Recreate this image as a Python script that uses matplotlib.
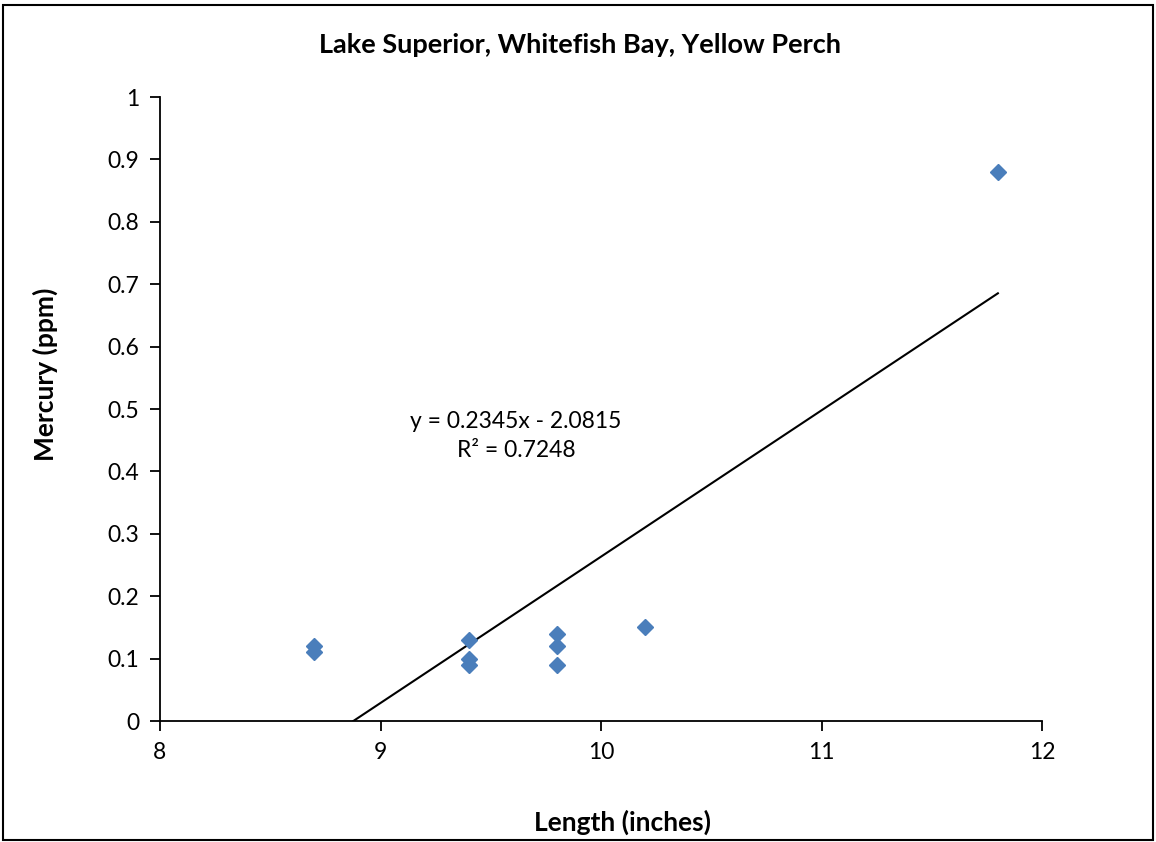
import matplotlib
matplotlib.use("Agg")
import matplotlib.pyplot as plt
import numpy as np

length_in = [8.7, 8.7, 9.4, 9.4, 9.4, 9.8, 9.8, 9.8, 10.2, 11.8]
mercury_ppm = [0.12, 0.11, 0.13, 0.10, 0.09, 0.14, 0.12, 0.09, 0.15, 0.88]
x_ticks = [8, 9, 10, 11, 12]
y_ticks = [0, 0.1, 0.2, 0.3, 0.4, 0.5, 0.6, 0.7, 0.8, 0.9, 1]
y_tick_labels = ["0", "0.1", "0.2", "0.3", "0.4", "0.5", "0.6", "0.7", "0.8", "0.9", "1"]

plt.rcParams['font.family'] = ['Lato', 'DejaVu Sans']

fig = plt.figure(figsize=(11.56, 8.42), dpi=100)
ax = fig.add_axes([160 / 1156, 1 - 721 / 842, (1042 - 160) / 1156, (721 - 97) / 842])

# linear trend line (least squares)
slope, intercept = np.polyfit(length_in, mercury_ppm, 1)
r2 = np.corrcoef(length_in, mercury_ppm)[0, 1] ** 2
xs = np.array([min(length_in), max(length_in)])
ax.plot(xs, slope * xs + intercept, color="black", lw=1.5, zorder=2)

ax.plot(length_in, mercury_ppm, linestyle="none", marker="D", markersize=8,
        color="#4A7EBB", zorder=3)

ax.set_xlim(8, 12)
ax.set_ylim(0, 1)
ax.set_xticks(x_ticks)
ax.set_yticks(y_ticks)
ax.set_yticklabels(y_tick_labels)
ax.tick_params(direction="out", length=7, width=1.3, labelsize=16.5, pad=8)
for side in ["top", "right"]:
    ax.spines[side].set_visible(False)
for side in ["left", "bottom"]:
    ax.spines[side].set_linewidth(1.3)

ax.text(9.615, 0.457, "y = %.4fx - %.4f\nR² = %.4f" % (slope, -intercept, r2),
        ha="center", va="center", fontsize=16.5, linespacing=1.5)

fig.text(580 / 1156, 1 - 45 / 842, "Lake Superior, Whitefish Bay, Yellow Perch",
         ha="center", va="center", fontsize=19.5, fontweight="bold")
fig.text(622 / 1156, 1 - 822 / 842, "Length (inches)",
         ha="center", va="center", fontsize=19, fontweight="bold")
fig.text(45 / 1156, 1 - 374 / 842, "Mercury (ppm)", rotation=90,
         ha="center", va="center", fontsize=19, fontweight="bold")

# outer chart border
border = plt.Rectangle((3 / 1156, 2 / 842), 1150 / 1156, 835 / 842, transform=fig.transFigure,
                       fill=False, edgecolor="black", lw=1.5)
fig.patches.append(border)

fig.savefig("out.png", dpi=100)
